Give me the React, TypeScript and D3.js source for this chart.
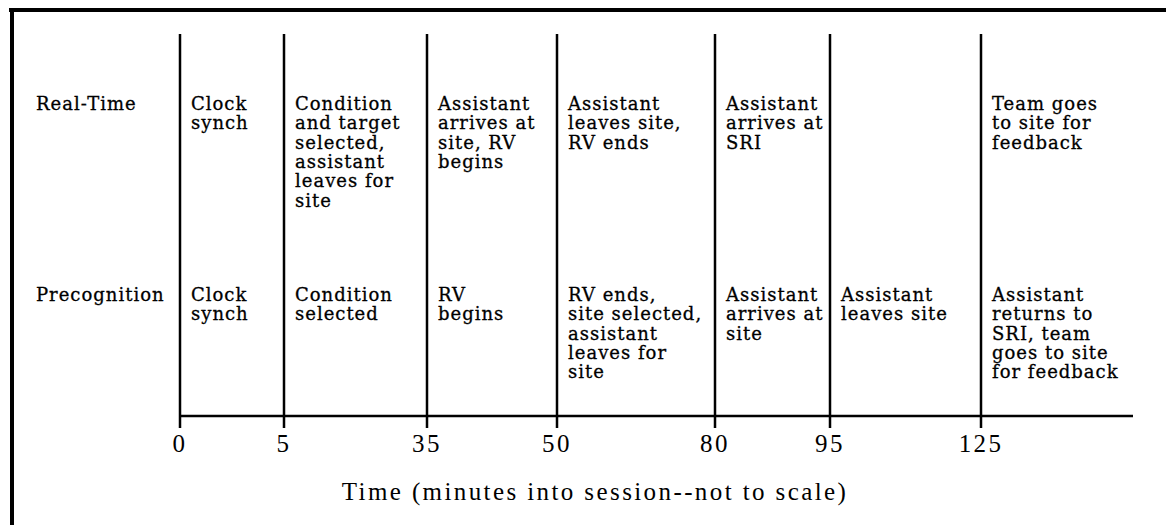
import React from "react";
import * as d3 from "d3";

// ---- data ----
const times = [0, 5, 35, 50, 80, 95, 125];
const tickLabels = ["0", "5", "35", "50", "80", "95", "125"];
const rowLabels = ["Real-Time", "Precognition"];
const realTimeEvents: string[][] = [
  ["Clock", "synch"],
  ["Condition", "and target", "selected,", "assistant", "leaves for", "site"],
  ["Assistant", "arrives at", "site, RV", "begins"],
  ["Assistant", "leaves site,", "RV ends"],
  ["Assistant", "arrives at", "SRI"],
  [],
  ["Team goes", "to site for", "feedback"],
];
const precognitionEvents: string[][] = [
  ["Clock", "synch"],
  ["Condition", "selected"],
  ["RV", "begins"],
  ["RV ends,", "site selected,", "assistant", "leaves for", "site"],
  ["Assistant", "arrives at", "site"],
  ["Assistant", "leaves site"],
  ["Assistant", "returns to", "SRI, team", "goes to site", "for feedback"],
];
const axisTitle = "Time (minutes into session--not to scale)";

export default function App() {
  const W = 1166;
  const H = 525;
  // layout (diagram is not to scale)
  const columnWidths = [104, 143, 130, 158, 115, 151];
  const x0 = 180;
  const range: number[] = [x0];
  columnWidths.forEach((w) => range.push(range[range.length - 1] + w));
  const x = d3.scaleLinear().domain(times).range(range);

  const axisY = 416;
  const axisEnd = 1133;
  const lineTop = 34;
  const tickLen = 12;
  const lineH = 19.3;
  const cellPad = 11;

  const rows = [
    { label: rowLabels[0], events: realTimeEvents, y: 110 },
    { label: rowLabels[1], events: precognitionEvents, y: 301 },
  ];

  const cellFont = {
    fontFamily: "'DejaVu Serif', serif",
    fontSize: 18,
    letterSpacing: 1,
    stroke: "#000",
    strokeWidth: 0.3,
  };
  const axisFont = {
    fontFamily: "'Liberation Serif', serif",
    fontSize: 25,
    letterSpacing: 2.4,
  };

  return (
    <svg
      width={W}
      height={H}
      viewBox={`0 0 ${W} ${H}`}
      style={{ position: "absolute", left: 0, top: 0, background: "#fff" }}
    >
      <rect x={0} y={0} width={W} height={H} fill="#fff" />
      {/* frame */}
      <line x1={9} y1={10} x2={W} y2={10} stroke="#000" strokeWidth={4} />
      <line x1={12} y1={8} x2={12} y2={H} stroke="#000" strokeWidth={4} />

      {/* axis */}
      <line x1={x(times[0])} y1={axisY} x2={axisEnd} y2={axisY} stroke="#000" strokeWidth={2.5} />
      {times.map((t, i) => (
        <g key={"v" + i}>
          <line
            x1={x(t)}
            x2={x(t)}
            y1={lineTop}
            y2={axisY + tickLen}
            stroke="#000"
            strokeWidth={2.5}
          />
          <text x={x(t)} y={axisY + 36} textAnchor="middle" fill="#000" {...axisFont}>
            {tickLabels[i]}
          </text>
        </g>
      ))}

      {/* axis title */}
      <text x={595} y={500} textAnchor="middle" fill="#000" {...axisFont}>
        {axisTitle}
      </text>

      {/* rows */}
      {rows.map((row, ri) => (
        <g key={"r" + ri}>
          <text x={36} y={row.y} fill="#000" {...cellFont}>
            {row.label}
          </text>
          {row.events.map((lines, ci) => (
            <text key={"c" + ci} x={x(times[ci]) + cellPad} y={row.y} fill="#000" {...cellFont}>
              {lines.map((ln, li) => (
                <tspan key={li} x={x(times[ci]) + cellPad} y={row.y + li * lineH}>
                  {ln}
                </tspan>
              ))}
            </text>
          ))}
        </g>
      ))}
    </svg>
  );
}
